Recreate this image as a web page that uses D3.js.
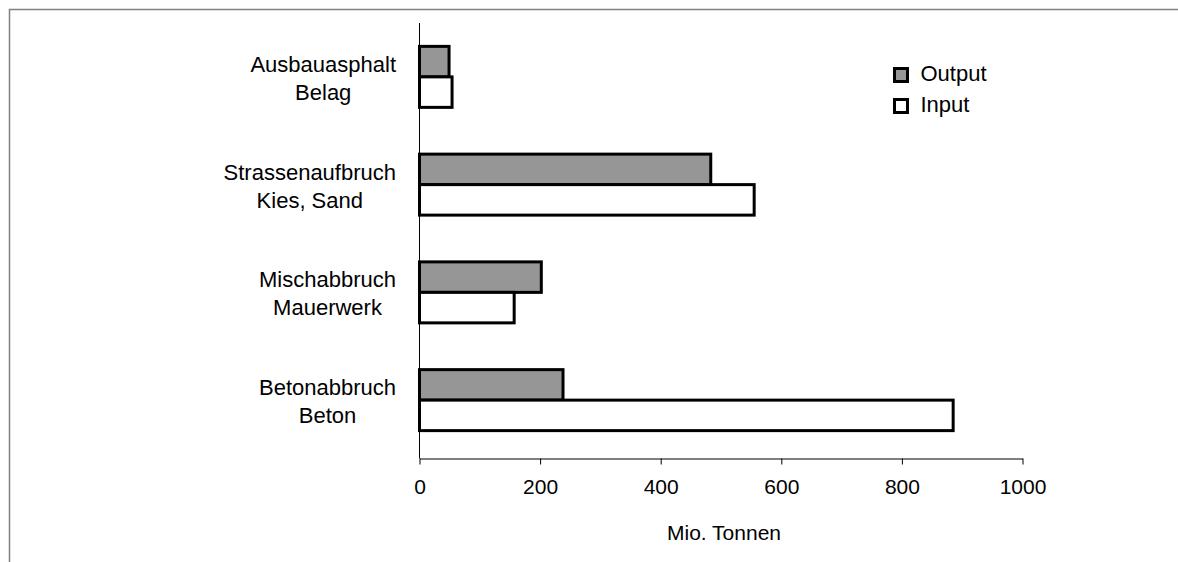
<!DOCTYPE html>
<html>
<head>
<meta charset="utf-8">
<script src="https://cdn.jsdelivr.net/npm/d3@7"></script>
<style>
  body { margin: 0; background: #fff; }
  text { font-family: "Liberation Sans", Arial, sans-serif; fill: #000; }
</style>
</head>
<body>
<div id="app"></div>
<script>
// data
const categories = [
  ['Ausbauasphalt', 'Belag'],
  ['Strassenaufbruch', 'Kies, Sand'],
  ['Mischabbruch', 'Mauerwerk'],
  ['Betonabbruch', 'Beton']
]
const outputValues = [49, 483, 202, 238]
const inputValues = [54, 555, 157, 885]
const seriesNames = ['Output', 'Input']
const xTicks = [0, 200, 400, 600, 800, 1000]
const axisTitle = 'Mio. Tonnen'

const w = 1178
const h = 562
const svg = d3.select('#app').append('svg')
  .attr('width', w)
  .attr('height', h)

// frame (top and left edge)
svg.append('path')
  .attr('d', 'M9.5,562V9.5H1178')
  .attr('fill', 'none')
  .attr('stroke', '#808080')
  .attr('stroke-width', 1.5)

const x = d3.scaleLinear().domain([0, 1000]).range([419.5, 1022.5])
const y = d3.scaleBand()
  .domain(d3.range(categories.length))
  .range([23, 454])
  .paddingInner(0.434)
  .paddingOuter(0.217)
const ySub = d3.scaleBand().domain([0, 1]).range([0, y.bandwidth()])

const series = [
  { name: seriesNames[0], values: outputValues, fill: '#969696' },
  { name: seriesNames[1], values: inputValues, fill: '#ffffff' }
]

// axis line on the left
svg.append('line')
  .attr('x1', x(0)).attr('x2', x(0))
  .attr('y1', 23).attr('y2', 458.5)
  .attr('stroke', '#000')

// bars
series.forEach(function (s, si) {
  svg.append('g').selectAll('rect')
    .data(s.values)
    .enter()
    .append('rect')
    .attr('x', x(0))
    .attr('y', (d, i) => y(i) + ySub(si))
    .attr('width', d => x(d) - x(0))
    .attr('height', ySub.bandwidth())
    .attr('fill', s.fill)
    .attr('stroke', '#000')
    .attr('stroke-width', 3)
})

// x axis
const xAxis = svg.append('g')
  .attr('transform', 'translate(0,458.5)')
  .call(d3.axisBottom(x).tickValues(xTicks).tickFormat(d3.format('d'))
    .tickSize(6).tickSizeOuter(0).tickPadding(15))
xAxis.select('.domain').attr('stroke', '#000')
xAxis.selectAll('.tick line').attr('stroke', '#000')
xAxis.selectAll('.tick text')
  .style('font-size', '21px')
  .attr('font-family', null)

// category labels: block right aligned, lines centered inside block
categories.forEach(function (lines, i) {
  const g = svg.append('g')
  const cy = y(i) + y.bandwidth() / 2
  const texts = lines.map(function (t, li) {
    return g.append('text')
      .attr('y', cy - 5 + li * 28)
      .attr('text-anchor', 'middle')
      .style('font-size', '22px')
      .text(t)
  })
  const maxW = d3.max(texts, t => t.node().getComputedTextLength())
  texts.forEach(t => t.attr('x', 396 - maxW / 2))
})

// axis title
svg.append('text')
  .attr('x', 724)
  .attr('y', 540)
  .attr('text-anchor', 'middle')
  .style('font-size', '21px')
  .text(axisTitle)

// legend
const legend = svg.append('g').attr('transform', 'translate(894.5,68.5)')
series.forEach(function (s, i) {
  legend.append('rect')
    .attr('x', 0)
    .attr('y', i * 31)
    .attr('width', 13)
    .attr('height', 13)
    .attr('fill', s.fill)
    .attr('stroke', '#000')
    .attr('stroke-width', 3)
  legend.append('text')
    .attr('x', 26)
    .attr('y', i * 31 + 12)
    .style('font-size', '22px')
    .text(s.name)
})
</script>
</body>
</html>
